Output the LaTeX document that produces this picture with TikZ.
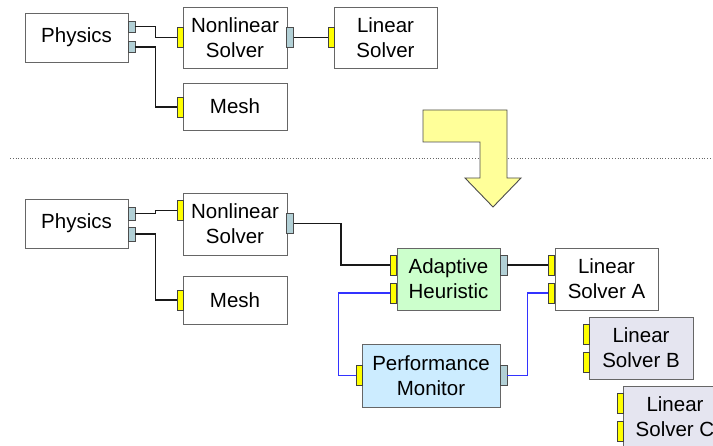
\documentclass[tikz,border=0pt]{standalone}
\usepackage{fontspec}
\setmainfont{Liberation Sans}
\definecolor{amarillo}{RGB}{255,255,0}
\definecolor{salida}{RGB}{178,208,214}
\definecolor{verde}{RGB}{204,255,204}
\definecolor{celeste}{RGB}{204,236,255}
\definecolor{lila}{RGB}{229,229,240}
\definecolor{flecha}{RGB}{255,255,153}
\definecolor{azul}{RGB}{51,51,255}
\tikzset{
    caja/.style={draw=black!60, fill=white, line width=0.9pt, inner sep=0pt, align=center,
        font=\fontsize{20.5}{25}\selectfont, minimum width=103pt, minimum height=61pt},
    entrada/.style={draw=black!75, fill=amarillo, line width=0.8pt, inner sep=0pt,
        minimum width=6pt, minimum height=20pt},
    puerto/.style={draw=black!70, fill=salida, line width=0.8pt, inner sep=0pt,
        minimum width=7pt, minimum height=20pt},
    enlace/.style={line width=1.6pt, black!90},
    monitor/.style={line width=1.4pt, azul}
}
\begin{document}
\begin{tikzpicture}[x=1pt,y=-1pt]
        \useasboundingbox (0,0) rectangle (713,446);
        \clip (0,0) rectangle (713,446);

        % Antes
        \node[caja, minimum height=49pt] (fis1) at (76.5,37.5) {Physics};
        \node[caja, minimum width=104pt] (nl1) at (235,37.5) {Nonlinear\\Solver};
        \node[caja] (ls1) at (385.5,37.5) {Linear\\Solver};
        \node[caja, minimum width=104pt, minimum height=47pt] (mesh1) at (235,106.5) {Mesh};
        \node[puerto, minimum height=11pt] (fis1a) at (131.5,26.5) {};
        \node[puerto, minimum height=11pt] (fis1b) at (131.5,47) {};
        \node[entrada] (nl1in) at (180,37.5) {};
        \node[puerto] (nl1out) at (290,37.5) {};
        \node[entrada] (ls1in) at (331,37.5) {};
        \node[entrada] (mesh1in) at (180,107) {};
        \draw[enlace] (fis1a.east) -- ++(20,0) |- (nl1in.west);
        \draw[enlace] (fis1b.east) -- ++(20,0) |- (mesh1in.west);
        \draw[enlace] (nl1out.east) -- (ls1in.west);

        % Separador y flecha
        \draw[black!60, dotted, line width=0.8pt] (10,158) -- (713,158);
        \draw[black!70, fill=flecha, line width=0.9pt] (423,110) -- (507,110) -- (507,178) -- (521,178)
            -- (493,207) -- (465,178) -- (480,178) -- (480,142) -- (423,142) -- cycle;

        % Despues
        \node[caja, minimum height=49pt] (fis2) at (76.5,223.5) {Physics};
        \node[caja, minimum width=104pt, minimum height=62pt] (nl2) at (235,224) {Nonlinear\\Solver};
        \node[caja, minimum width=104pt, minimum height=48pt] (mesh2) at (235,300) {Mesh};
        \node[caja, fill=verde, minimum height=62pt] (ah) at (448.5,279) {Adaptive\\Heuristic};
        \node[caja, minimum height=62pt] (lsa) at (606.5,279) {Linear\\Solver A};
        \node[caja, fill=celeste, minimum width=138pt, minimum height=63pt] (pm) at (431,375.5) {Performance\\Monitor};
        \foreach \n/\x/\y in {b/641/348, c/675/417} {
            \node[caja, fill=lila, minimum width=104pt, minimum height=62pt] (ls\n) at (\x,\y)
                {Linear\\Solver \MakeUppercase{\n}};
            \node[entrada] (ls\n in1) at (\x-55,\y-14) {};
            \node[entrada] (ls\n in2) at (\x-55,\y+14) {};
        }
        \node[puerto, minimum height=13pt] (fis2a) at (131.5,213.5) {};
        \node[puerto, minimum height=14pt] (fis2b) at (131.5,234) {};
        \node[entrada] (nl2in) at (180,210.5) {};
        \node[puerto] (nl2out) at (290,223.5) {};
        \node[entrada] (mesh2in) at (180,300) {};
        \node[entrada] (ahin1) at (393,265) {};
        \node[entrada] (ahin2) at (393,293) {};
        \node[puerto] (ahout) at (503.5,265) {};
        \node[entrada] (lsain1) at (551.5,265) {};
        \node[entrada] (lsain2) at (551.5,293) {};
        \node[entrada] (pmin) at (359,375.5) {};
        \node[puerto] (pmout) at (503.5,375.5) {};

        % Conexiones
        \draw[enlace] (fis2a.east) -- ++(20,0) |- (nl2in.west);
        \draw[enlace] (fis2b.east) -- ++(20,0) |- (mesh2in.west);
        \draw[enlace] (nl2out.east) -- ++(47,0) |- (ahin1.west);
        \draw[enlace] (ahout.east) -- (lsain1.west);
        \draw[monitor] (ahin2.west) -- ++(-51,0) |- (pmin.west);
        \draw[monitor] (pmout.east) -- ++(20,0) |- (lsain2.west);
    \end{tikzpicture}
\end{document}
